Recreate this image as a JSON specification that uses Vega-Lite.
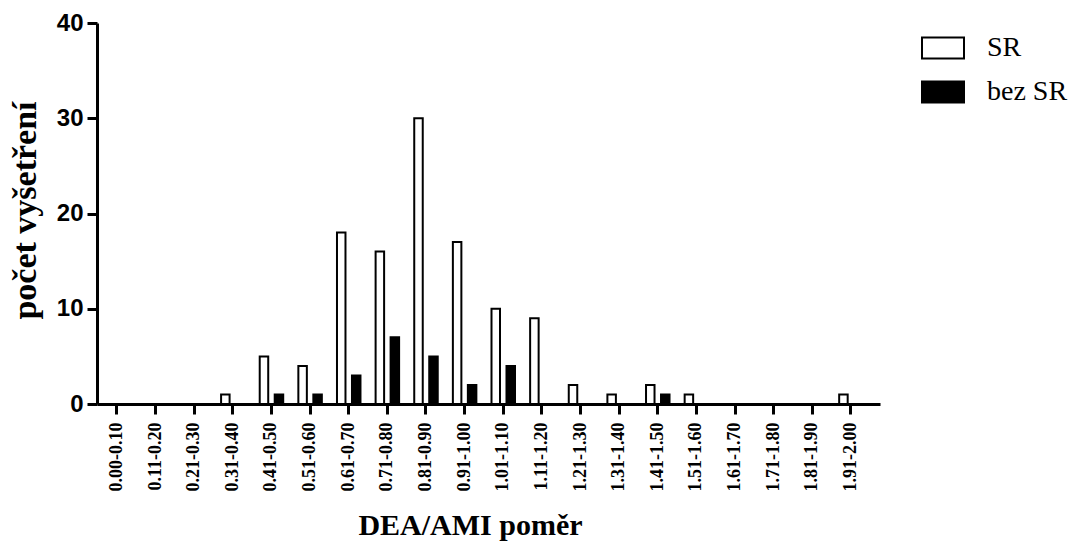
{
  "$schema": "https://vega.github.io/schema/vega-lite/v6.json",
  "width": 783,
  "height": 381,
  "autosize": {"type": "none"},
  "padding": {"left": 97, "top": 23, "right": 200, "bottom": 143},
  "background": "white",
  "data": {
    "values": [
      {"bin": "0.00-0.10", "group": "SR", "count": 0},
      {"bin": "0.00-0.10", "group": "bez SR", "count": 0},
      {"bin": "0.11-0.20", "group": "SR", "count": 0},
      {"bin": "0.11-0.20", "group": "bez SR", "count": 0},
      {"bin": "0.21-0.30", "group": "SR", "count": 0},
      {"bin": "0.21-0.30", "group": "bez SR", "count": 0},
      {"bin": "0.31-0.40", "group": "SR", "count": 1},
      {"bin": "0.31-0.40", "group": "bez SR", "count": 0},
      {"bin": "0.41-0.50", "group": "SR", "count": 5},
      {"bin": "0.41-0.50", "group": "bez SR", "count": 1},
      {"bin": "0.51-0.60", "group": "SR", "count": 4},
      {"bin": "0.51-0.60", "group": "bez SR", "count": 1},
      {"bin": "0.61-0.70", "group": "SR", "count": 18},
      {"bin": "0.61-0.70", "group": "bez SR", "count": 3},
      {"bin": "0.71-0.80", "group": "SR", "count": 16},
      {"bin": "0.71-0.80", "group": "bez SR", "count": 7},
      {"bin": "0.81-0.90", "group": "SR", "count": 30},
      {"bin": "0.81-0.90", "group": "bez SR", "count": 5},
      {"bin": "0.91-1.00", "group": "SR", "count": 17},
      {"bin": "0.91-1.00", "group": "bez SR", "count": 2},
      {"bin": "1.01-1.10", "group": "SR", "count": 10},
      {"bin": "1.01-1.10", "group": "bez SR", "count": 4},
      {"bin": "1.11-1.20", "group": "SR", "count": 9},
      {"bin": "1.11-1.20", "group": "bez SR", "count": 0},
      {"bin": "1.21-1.30", "group": "SR", "count": 2},
      {"bin": "1.21-1.30", "group": "bez SR", "count": 0},
      {"bin": "1.31-1.40", "group": "SR", "count": 1},
      {"bin": "1.31-1.40", "group": "bez SR", "count": 0},
      {"bin": "1.41-1.50", "group": "SR", "count": 2},
      {"bin": "1.41-1.50", "group": "bez SR", "count": 1},
      {"bin": "1.51-1.60", "group": "SR", "count": 1},
      {"bin": "1.51-1.60", "group": "bez SR", "count": 0},
      {"bin": "1.61-1.70", "group": "SR", "count": 0},
      {"bin": "1.61-1.70", "group": "bez SR", "count": 0},
      {"bin": "1.71-1.80", "group": "SR", "count": 0},
      {"bin": "1.71-1.80", "group": "bez SR", "count": 0},
      {"bin": "1.81-1.90", "group": "SR", "count": 0},
      {"bin": "1.81-1.90", "group": "bez SR", "count": 0},
      {"bin": "1.91-2.00", "group": "SR", "count": 1},
      {"bin": "1.91-2.00", "group": "bez SR", "count": 0}
    ]
  },
  "mark": {"type": "bar", "stroke": "black", "strokeWidth": 2},
  "encoding": {
    "x": {
      "field": "bin",
      "type": "nominal",
      "sort": null,
      "scale": {"paddingInner": 0.353, "paddingOuter": 0.311, "align": 0.31},
      "axis": {
        "title": "DEA/AMI poměr",
        "titleFont": "Liberation Serif",
        "titleFontSize": 30,
        "titleFontWeight": "bold",
        "titleColor": "black",
        "titleX": 373,
        "titleY": 130,
        "titleAlign": "center",
        "titleBaseline": "alphabetic",
        "labelFont": "Liberation Serif",
        "labelFontWeight": "bold",
        "labelFontSize": 18,
        "labelAngle": -90,
        "labelAlign": "right",
        "labelBaseline": "middle",
        "labelPadding": 8,
        "labelColor": "black",
        "labelOverlap": false,
        "labelLimit": 0,
        "labelBound": false,
        "domainColor": "black",
        "domainWidth": 3,
        "tickColor": "black",
        "tickWidth": 3,
        "tickSize": 10,
        "zindex": 1
      }
    },
    "xOffset": {
      "field": "group",
      "type": "nominal",
      "scale": {"domain": ["SR", "bez SR"], "paddingInner": 0.433, "paddingOuter": 0.05}
    },
    "y": {
      "field": "count",
      "type": "quantitative",
      "scale": {"domain": [0, 40], "nice": false},
      "axis": {
        "values": [0, 10, 20, 30, 40],
        "grid": false,
        "title": "počet vyšetření",
        "titleFont": "Liberation Serif",
        "titleFontSize": 34,
        "titleFontWeight": "bold",
        "titleColor": "black",
        "titleAngle": -90,
        "titleX": -72,
        "titleY": 187,
        "titleAlign": "center",
        "titleBaseline": "middle",
        "labelFont": "Liberation Sans",
        "labelFontWeight": "bold",
        "labelFontSize": 24,
        "labelColor": "black",
        "labelPadding": 4,
        "domainColor": "black",
        "domainWidth": 3,
        "tickColor": "black",
        "tickWidth": 3,
        "tickSize": 10,
        "zindex": 1
      }
    },
    "color": {
      "field": "group",
      "type": "nominal",
      "scale": {"domain": ["SR", "bez SR"], "range": ["white", "black"]},
      "legend": {
        "orient": "none",
        "legendX": 824,
        "legendY": 3,
        "title": null,
        "symbolType": "M-1,-0.5H1V0.5H-1Z",
        "symbolSize": 1764,
        "symbolStrokeColor": "black",
        "symbolStrokeWidth": 2,
        "symbolOpacity": 1,
        "labelFontSize": 28,
        "labelColor": "black",
        "labelOffset": 22,
        "rowPadding": 7
      }
    }
  },
  "config": {
    "view": {"stroke": null},
    "font": "Liberation Serif"
  }
}
